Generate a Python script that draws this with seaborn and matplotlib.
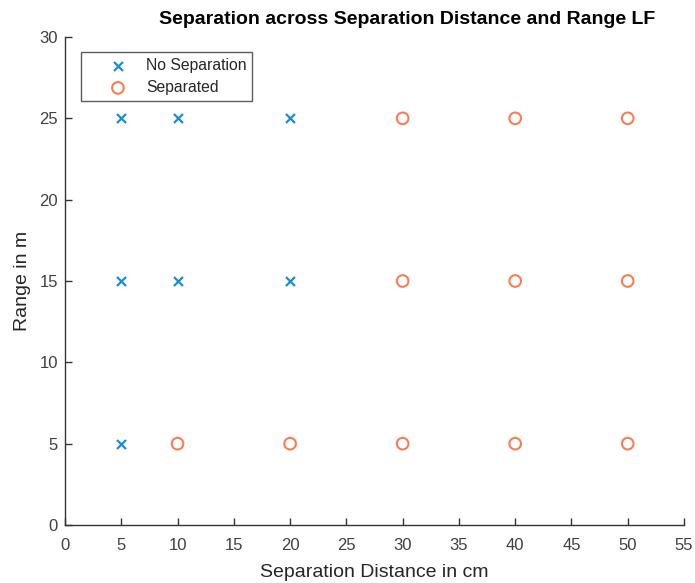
import matplotlib
matplotlib.use("Agg")
import matplotlib.pyplot as plt
import seaborn as sns
import pandas as pd

no_sep_x = [5, 10, 20, 5, 10, 20, 5]
no_sep_y = [25, 25, 25, 15, 15, 15, 5]
sep_x = [30, 40, 50, 30, 40, 50, 10, 20, 30, 40, 50]
sep_y = [25, 25, 25, 15, 15, 15, 5, 5, 5, 5, 5]
labels = ["No Separation", "Separated"]
x_ticks = list(range(0, 60, 5))
y_ticks = list(range(0, 35, 5))

sns.set_style("white")
plt.rcParams['font.family'] = ['Liberation Sans', 'DejaVu Sans']

df = pd.DataFrame({
    "x": no_sep_x + sep_x,
    "y": no_sep_y + sep_y,
    "status": [labels[0]] * len(no_sep_x) + [labels[1]] * len(sep_x),
})

fig = plt.figure(figsize=(6.95, 5.83), dpi=100)
ax = fig.add_axes([65/695, 1-525/583, (684-65)/695, (525-37)/583])

blue = "#1A8CD4"
orange = "#F87D52"
sub1 = df[df.status == labels[0]]
sub2 = df[df.status == labels[1]]
sns.scatterplot(data=sub1, x="x", y="y", ax=ax, marker="x", color=blue, s=42,
                linewidth=1.6, label=labels[0])
sns.scatterplot(data=sub2, x="x", y="y", ax=ax, marker="o", facecolor="none",
                edgecolor=orange, s=70, linewidth=1.5, label=labels[1])

ax.set_xlim(0, 55)
ax.set_ylim(0, 30)
ax.set_xticks(x_ticks)
ax.set_yticks(y_ticks)
for s in ["top", "right"]:
    ax.spines[s].set_visible(False)
for s in ["left", "bottom"]:
    ax.spines[s].set_color("#333333")
    ax.spines[s].set_linewidth(1.0)
ax.tick_params(bottom=True, left=True, direction="in", length=5, width=1.0,
               colors="#333333", labelsize=12, labelcolor="#404040")
ax.tick_params(axis="x", pad=9)
ax.tick_params(axis="y", pad=5)
ax.set_xlabel("Separation Distance in cm", fontsize=14, color="#262626", labelpad=8)
ax.set_ylabel("Range in m", fontsize=14, color="#262626", labelpad=6)
fig.text(407/695, 1-19/583, "Separation across Separation Distance and Range LF",
         ha="center", va="center", fontsize=14, fontweight="bold", color="black")

leg = ax.legend(loc="upper left", bbox_to_anchor=(16/619, 1-15/488), borderaxespad=0,
                frameon=True, fancybox=False, fontsize=11.3, borderpad=0.38,
                handlelength=3.95, handletextpad=-0.2, labelspacing=0.45)
leg.get_frame().set_edgecolor("#333333")
leg.get_frame().set_linewidth(1.0)
for t in leg.get_texts():
    t.set_color("#262626")

fig.savefig("out.png", dpi=100)
